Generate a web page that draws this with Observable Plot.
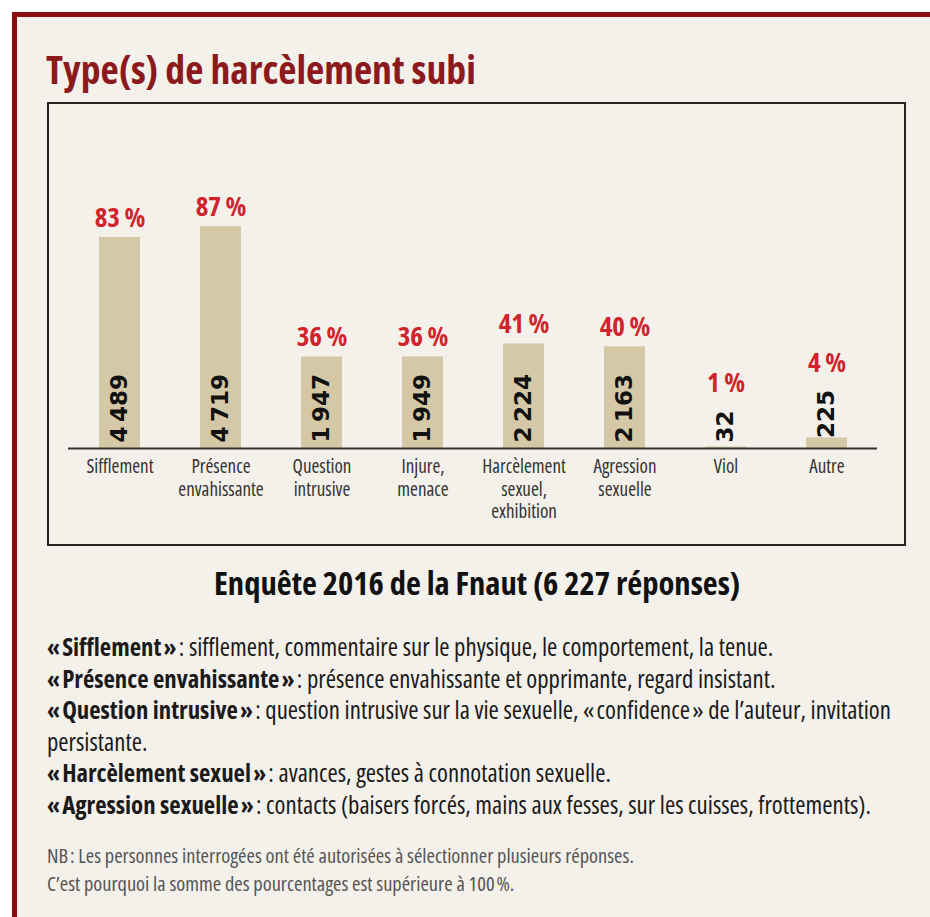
<!DOCTYPE html>
<html><head><meta charset="utf-8">
<script src="https://cdn.jsdelivr.net/npm/d3@7"></script>
<script src="https://cdn.jsdelivr.net/npm/@observablehq/plot@0.6"></script>
<style>
html,body{margin:0;padding:0;background:#fff;}
body{width:930px;height:917px;position:relative;overflow:hidden;font-family:"Open Sans",sans-serif;font-stretch:condensed;}
#frame{position:absolute;left:12px;top:12px;width:940px;height:930px;border-top:5px solid #8b0e10;border-left:5px solid #8b0e10;background:#f4f0ea;}
#title{position:absolute;left:46px;top:44px;line-height:50px;font-size:39.7px;font-weight:bold;color:#8c1a1d;white-space:nowrap;}
#box{position:absolute;left:47px;top:102px;width:855px;height:440px;border:2px solid #222;}
#box svg{display:block;}
#sub{position:absolute;left:0;width:954px;top:563px;line-height:40px;font-size:32.6px;font-weight:bold;color:#111;text-align:center;white-space:nowrap;}
#defs{position:absolute;left:47px;top:631px;line-height:31.6px;font-size:24.8px;color:#1a1a1a;white-space:nowrap;}
#defs b{font-weight:bold;}
#nb{position:absolute;left:47px;top:841px;line-height:28px;font-size:20.4px;color:#555;white-space:nowrap;}
</style>
</head><body>
<div id="frame"></div>
<div id="title">Type(s) de harcèlement subi</div>
<div id="box"></div>
<div id="sub">Enquête 2016 de la Fnaut (6&nbsp;227 réponses)</div>
<div id="defs">
<b>«&#8239;Sifflement&#8239;»</b>&#8239;: sifflement, commentaire sur le physique, le comportement, la tenue.<br>
<b>«&#8239;Présence envahissante&#8239;»</b>&#8239;: présence envahissante et opprimante, regard insistant.<br>
<b>«&#8239;Question intrusive&#8239;»</b>&#8239;: question intrusive sur la vie sexuelle, «&#8239;confidence&#8239;» de l’auteur, invitation<br>
persistante.<br>
<b>«&#8239;Harcèlement sexuel&#8239;»</b>&#8239;: avances, gestes à connotation sexuelle.<br>
<b>«&#8239;Agression sexuelle&#8239;»</b>&#8239;: contacts (baisers forcés, mains aux fesses, sur les cuisses, frottements).
</div>
<div id="nb">NB&#8239;: Les personnes interrogées ont été autorisées à sélectionner plusieurs réponses.<br>C’est pourquoi la somme des pourcentages est supérieure à 100&#8239;%.</div>
<script>
const categories = ["Sifflement", "Présence\nenvahissante", "Question\nintrusive", "Injure,\nmenace", "Harcèlement\nsexuel,\nexhibition", "Agression\nsexuelle", "Viol", "Autre"];
const counts = [4489, 4719, 1947, 1949, 2224, 2163, 32, 225];
const percents = [83, 87, 36, 36, 41, 40, 1, 4];

const fr = d3.formatLocale({decimal: ",", thousands: "\u202f", grouping: [3], currency: ["", " €"]});
const fmt = fr.format(",d");
const font = "'Open Sans',sans-serif";

const W = 855, H = 440, mT = 109, mB = 96, yMax = 5000;
const pxPerUnit = (H - mT - mB) / yMax;
const countFontSize = 23;
const minAnchor = 6 / pxPerUnit; // count label starts 6px above the axis

const data = categories.map((c, i) => {
  const label = fmt(counts[i]);
  // approximate length of the rotated count label (DejaVu Sans Bold digits ≈ 0.696em)
  const lenPx = label.replace(/\u202f/g, "").length * 0.696 * countFontSize + (label.includes("\u202f") ? 4 : 0);
  const anchor = counts[i] < 500 ? Math.max(counts[i], minAnchor) : minAnchor;
  const labelTop = anchor + lenPx / pxPerUnit;
  const pctY = counts[i] >= labelTop ? counts[i] : labelTop + 7 / pxPerUnit;
  return {cat: c, count: counts[i], pct: percents[i], label, anchor, pctY};
});

const chart = Plot.plot({
  width: W,
  height: H,
  marginLeft: 19,
  marginRight: 27,
  marginTop: mT,
  marginBottom: mB,
  style: {background: "transparent", fontFamily: font, fontStretch: "condensed", overflow: "visible"},
  x: {domain: categories, paddingInner: 0.595, paddingOuter: 0.2975, axis: null},
  y: {domain: [0, yMax], axis: null},
  marks: [
    Plot.barY(data, {x: "cat", y: "count", fill: "#d5c8a6"}),
    Plot.ruleY([0], {stroke: "#333", strokeWidth: 2}),
    Plot.axisX({tickSize: 0, tickPadding: 9, fontSize: 19, fill: "#333", lineHeight: 1.17, label: null, fontFamily: font}),
    Plot.text(data, {x: "cat", y: "pctY", text: d => d.pct + "\u2009%", lineAnchor: "bottom", dy: -11, fill: "#d0232b", fontSize: 27, fontWeight: "bold", fontFamily: font}),
    Plot.text(data, {x: "cat", y: "anchor", text: "label", rotate: -90, textAnchor: "start", lineAnchor: "middle", fill: "#111", fontSize: countFontSize, fontWeight: "bold", fontFamily: "'DejaVu Sans',sans-serif"})
  ]
});
const textGroups = chart.querySelectorAll('g[aria-label="text"]');
if (textGroups.length) textGroups[textGroups.length - 1].style.fontStretch = "normal";
document.getElementById("box").appendChild(chart);
</script>
</body></html>
